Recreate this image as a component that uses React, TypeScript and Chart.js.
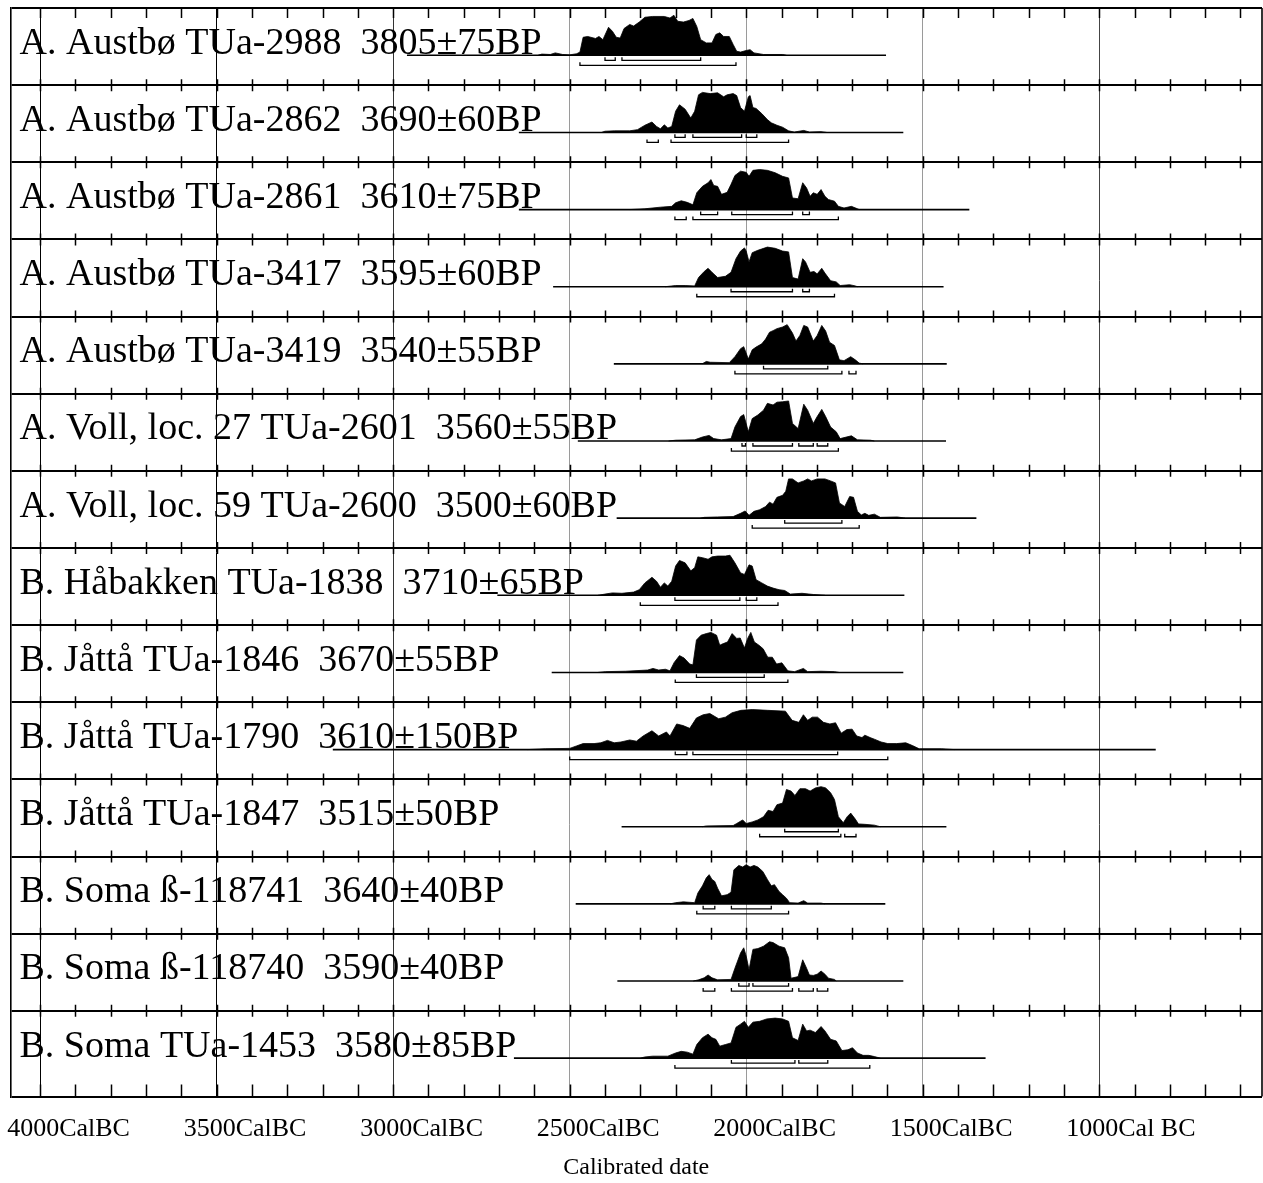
import { useEffect, useRef } from 'react';
import { Chart, registerables } from 'chart.js';

Chart.register(...registerables);

const FAMILY = '"Liberation Serif", "Times New Roman", Times, serif';

// ---- axis ----
const X_MIN_BC = 4084;
const X_MAX_BC = 539;
const X_TICKS_BC = [4000, 3500, 3000, 2500, 2000, 1500, 1000];
const X_TICK_LABELS = ['4000CalBC', '3500CalBC', '3000CalBC', '2500CalBC', '2000CalBC', '1500CalBC', '1000Cal BC'];
const MINOR_TICKS_BC = [4000, 3900, 3800, 3700, 3600, 3500, 3400, 3300, 3200, 3100, 3000, 2900, 2800, 2700, 2600, 2500, 2400, 2300, 2200, 2100, 2000, 1900, 1800, 1700, 1600, 1500, 1400, 1300, 1200, 1100, 1000, 900, 800, 700, 600];
const X_TITLE = 'Calibrated date';

// ---- samples ----
const LABELS = [
  'A. Austbø TUa-2988  3805±75BP',
  'A. Austbø TUa-2862  3690±60BP',
  'A. Austbø TUa-2861  3610±75BP',
  'A. Austbø TUa-3417  3595±60BP',
  'A. Austbø TUa-3419  3540±55BP',
  'A. Voll, loc. 27 TUa-2601  3560±55BP',
  'A. Voll, loc. 59 TUa-2600  3500±60BP',
  'B. Håbakken TUa-1838  3710±65BP',
  'B. Jåttå TUa-1846  3670±55BP',
  'B. Jåttå TUa-1790  3610±150BP',
  'B. Jåttå TUa-1847  3515±50BP',
  'B. Soma ß-118741  3640±40BP',
  'B. Soma ß-118740  3590±40BP',
  'B. Soma TUa-1453  3580±85BP',
];

const LINE_START = [2961, 2644, 2644, 2547, 2375, 2477, 2367, 2705, 2551, 3171, 2353, 2483, 2365, 2658];
const LINE_END = [1604, 1555, 1368, 1441, 1432, 1434, 1348, 1552, 1555, 840, 1433, 1606, 1555, 1322];

// [year BC, relative probability 0-100]
const DIST_TUA2988 = [[2590,0],[2579,3],[2555,2],[2541,6],[2520,2],[2500,1],[2480,4],[2471,8],[2462,45],[2449,47],[2427,42],[2417,47],[2406,39],[2390,70],[2379,60],[2368,45],[2357,43],[2346,67],[2330,77],[2319,73],[2303,83],[2287,95],[2265,97],[2232,97],[2216,93],[2205,100],[2194,85],[2178,83],[2162,87],[2151,92],[2140,72],[2129,39],[2113,31],[2097,31],[2086,52],[2075,56],[2064,47],[2048,47],[2037,27],[2027,10],[2016,8],[2000,12],[1989,14],[1978,6],[1951,2],[1897,2],[1886,0]];
const DIST_TUA2862 = [[2410,0],[2400,3],[2373,4],[2330,4],[2308,7],[2287,18],[2267,26],[2254,15],[2243,9],[2232,19],[2222,11],[2211,15],[2200,53],[2189,69],[2173,58],[2157,36],[2146,53],[2135,94],[2124,100],[2102,97],[2081,99],[2064,89],[2054,94],[2037,97],[2027,92],[2016,62],[2005,53],[1994,89],[1989,92],[1981,62],[1972,60],[1956,47],[1940,32],[1929,24],[1913,18],[1897,13],[1880,4],[1864,1],[1837,5],[1821,1],[1788,2],[1772,0]];
const DIST_TUA2861 = [[2330,0],[2287,2],[2243,6],[2211,8],[2200,17],[2184,22],[2167,18],[2151,12],[2140,42],[2124,58],[2108,67],[2100,75],[2092,60],[2081,58],[2070,38],[2054,43],[2043,63],[2032,85],[2016,96],[2000,93],[1992,83],[1981,98],[1962,100],[1940,98],[1918,92],[1897,83],[1880,79],[1869,29],[1853,27],[1840,67],[1829,54],[1819,33],[1810,42],[1799,38],[1788,50],[1777,33],[1767,25],[1750,21],[1739,8],[1723,4],[1702,8],[1685,2],[1680,0]];
const DIST_TUA3417 = [[2230,0],[2200,3],[2173,3],[2146,2],[2135,23],[2119,38],[2108,46],[2097,36],[2081,23],[2059,26],[2043,36],[2029,70],[2016,89],[2005,97],[2000,89],[1992,62],[1983,85],[1967,91],[1940,99],[1918,96],[1897,89],[1880,87],[1869,23],[1853,19],[1840,70],[1832,62],[1819,36],[1808,38],[1799,32],[1786,46],[1777,34],[1761,15],[1745,12],[1734,3],[1707,5],[1691,2],[1685,0]];
const DIST_TUA3419 = [[2125,0],[2113,6],[2102,4],[2048,3],[2032,18],[2016,38],[2007,43],[1994,12],[1983,35],[1972,42],[1956,50],[1945,62],[1934,79],[1924,83],[1913,88],[1897,92],[1884,98],[1869,77],[1859,57],[1848,71],[1837,96],[1826,92],[1810,57],[1799,71],[1786,96],[1775,82],[1764,54],[1750,46],[1736,10],[1723,8],[1704,18],[1691,10],[1680,2],[1669,0]];
const DIST_TUA2601 = [[2220,0],[2200,2],[2146,3],[2124,10],[2105,14],[2092,6],[2070,3],[2043,6],[2032,35],[2016,61],[2007,66],[1994,23],[1983,56],[1967,65],[1951,77],[1940,94],[1924,90],[1913,97],[1897,98],[1880,100],[1869,44],[1853,31],[1837,92],[1826,77],[1810,44],[1799,61],[1786,79],[1775,61],[1761,35],[1745,23],[1734,6],[1702,13],[1685,3],[1648,2],[1637,0]];
const DIST_TUA2600 = [[2130,0],[2119,2],[2081,3],[2037,4],[2016,12],[2003,18],[1992,7],[1978,17],[1962,21],[1945,29],[1934,40],[1924,35],[1913,52],[1897,57],[1888,67],[1880,98],[1869,98],[1853,88],[1837,93],[1826,98],[1815,93],[1799,98],[1777,98],[1761,93],[1747,88],[1736,38],[1721,29],[1707,54],[1696,52],[1685,17],[1674,8],[1664,12],[1653,7],[1637,10],[1620,2],[1572,3],[1550,0]];
const DIST_TUA1838 = [[2420,0],[2400,3],[2379,6],[2352,5],[2319,8],[2303,14],[2287,31],[2267,45],[2254,35],[2243,20],[2232,31],[2222,23],[2211,35],[2200,73],[2189,87],[2173,81],[2157,61],[2146,69],[2137,96],[2124,94],[2108,90],[2097,96],[2081,98],[2059,98],[2046,100],[2032,81],[2016,56],[2005,52],[1992,76],[1983,73],[1972,39],[1956,31],[1940,23],[1924,18],[1907,14],[1891,12],[1875,3],[1842,5],[1810,2],[1777,0]];
const DIST_TUA1846 = [[2420,0],[2399,2],[2342,3],[2279,6],[2264,10],[2248,6],[2229,8],[2216,4],[2204,25],[2189,42],[2176,36],[2160,21],[2151,19],[2141,81],[2128,93],[2113,97],[2100,100],[2084,93],[2075,68],[2065,72],[2053,76],[2040,97],[2027,85],[2017,86],[2005,61],[1996,85],[1987,100],[1977,76],[1964,68],[1952,59],[1939,38],[1926,38],[1914,21],[1899,24],[1882,4],[1863,2],[1838,10],[1826,2],[1788,3],[1750,2],[1737,0]];
const DIST_TUA1790 = [[2620,0],[2569,2],[2500,3],[2481,9],[2462,15],[2431,15],[2412,17],[2393,23],[2374,17],[2355,19],[2330,24],[2311,21],[2292,34],[2267,47],[2248,34],[2226,44],[2216,34],[2197,64],[2179,60],[2160,53],[2141,79],[2122,87],[2103,90],[2078,77],[2059,81],[2040,92],[2015,98],[1983,100],[1939,98],[1889,96],[1870,73],[1851,68],[1838,87],[1826,73],[1813,81],[1798,81],[1781,68],[1763,64],[1747,67],[1731,41],[1715,50],[1700,51],[1687,34],[1672,30],[1664,36],[1649,30],[1637,26],[1618,19],[1599,15],[1574,15],[1548,17],[1529,10],[1510,2],[1447,2],[1410,0]];
const DIST_TUA1847 = [[2125,0],[2113,2],[2037,3],[2027,8],[2010,17],[2000,8],[1983,12],[1967,17],[1951,25],[1938,41],[1924,38],[1913,55],[1897,59],[1886,93],[1873,89],[1862,78],[1848,95],[1832,95],[1819,89],[1804,97],[1788,100],[1775,97],[1761,85],[1750,68],[1739,25],[1725,10],[1714,25],[1704,34],[1691,19],[1682,7],[1664,6],[1637,4],[1620,0]];
const DIST_B118741 = [[2215,0],[2200,3],[2178,5],[2146,3],[2137,27],[2124,45],[2113,65],[2105,73],[2097,61],[2089,56],[2081,39],[2070,20],[2054,23],[2043,29],[2035,85],[2021,96],[2010,92],[2000,98],[1989,92],[1978,96],[1967,92],[1953,81],[1940,61],[1929,45],[1920,48],[1907,31],[1897,23],[1886,14],[1877,3],[1853,2],[1837,8],[1826,2],[1788,2],[1777,0]];
const DIST_B118740 = [[2150,0],[2135,3],[2119,8],[2108,15],[2097,8],[2081,3],[2043,4],[2032,32],[2016,70],[2007,83],[2000,62],[1992,28],[1981,79],[1967,81],[1951,87],[1934,98],[1924,96],[1907,87],[1891,83],[1880,58],[1873,7],[1853,11],[1840,53],[1829,32],[1821,15],[1810,14],[1799,17],[1788,25],[1777,17],[1767,7],[1750,4],[1745,0]];
const DIST_TUA1453 = [[2300,0],[2287,3],[2265,5],[2222,5],[2200,13],[2184,17],[2167,15],[2151,10],[2140,34],[2124,51],[2108,60],[2097,51],[2086,47],[2075,30],[2059,34],[2043,38],[2029,77],[2016,85],[2005,92],[1994,77],[1981,90],[1962,92],[1942,98],[1918,100],[1897,98],[1880,92],[1869,51],[1853,44],[1840,85],[1829,68],[1819,70],[1804,64],[1788,79],[1777,68],[1761,47],[1745,43],[1729,19],[1712,21],[1699,26],[1685,13],[1669,7],[1653,7],[1637,4],[1620,0]];

const DISTS = [DIST_TUA2988, DIST_TUA2862, DIST_TUA2861, DIST_TUA3417, DIST_TUA3419, DIST_TUA2601, DIST_TUA2600, DIST_TUA1838, DIST_TUA1846, DIST_TUA1790, DIST_TUA1847, DIST_B118741, DIST_B118740, DIST_TUA1453];

// 68.2% and 95.4% ranges [from BC, to BC]
const RANGES_68 = [
  [[2400, 2371], [2352, 2129]],
  [[2202, 2173], [2151, 2013], [2000, 1970]],
  [[2129, 2081], [2041, 1869], [1840, 1821]],
  [[2043, 1869], [1840, 1821]],
  [[1951, 1769]],
  [[2012, 2002], [1981, 1869], [1851, 1810], [1799, 1769]],
  [[1891, 1729]],
  [[2202, 2018], [2000, 1970]],
  [[2141, 1949]],
  [[2201, 2168], [2151, 1741]],
  [[1891, 1739]],
  [[2122, 2089], [2042, 1929]],
  [[2021, 1992], [1981, 1880]],
  [[2042, 1862], [1851, 1769]],
];
const RANGES_95 = [
  [[2471, 2029]],
  [[2281, 2249], [2213, 1880]],
  [[2202, 2170], [2151, 1739]],
  [[2140, 1750]],
  [[2032, 1729], [1709, 1689]],
  [[2042, 1739]],
  [[1983, 1680]],
  [[2300, 1910]],
  [[2201, 1882]],
  [[2500, 1599]],
  [[1962, 1732], [1721, 1689]],
  [[2140, 1880]],
  [[2122, 2089], [2042, 1869], [1851, 1810], [1799, 1769]],
  [[2202, 1650]],
];

// ---- layout constants (in row units) ----
const ROWS = LABELS.length;
const Y_MAX = 14.11;
const BASE = 0.613;
const PEAK = 0.519;
const B68 = 0.678;
const B95 = 0.743;
const BRACKET_TICK = 0.04;
const TEXT_BASE = 0.593;

function bracketPoints(row: number, ranges: number[][], level: number) {
  const pts: { x: number; y: number | null }[] = [];
  const yl = row + level;
  const yt = yl - BRACKET_TICK;
  ranges.forEach(([a, b]) => {
    pts.push({ x: -a, y: yt }, { x: -a, y: yl }, { x: -b, y: yl }, { x: -b, y: yt }, { x: -b, y: null });
  });
  return pts;
}

function buildDatasets() {
  const ds: any[] = [];
  for (let i = 0; i < ROWS; i++) {
    ds.push({
      type: 'line',
      data: [{ x: -LINE_START[i], y: i + BASE }, { x: -LINE_END[i], y: i + BASE }],
      borderColor: '#000',
      borderWidth: 1.6,
      pointRadius: 0,
      fill: false,
    });
    ds.push({
      type: 'line',
      data: DISTS[i].map(([yr, h]) => ({ x: -yr, y: i + BASE - (PEAK * h) / 100 })),
      borderColor: '#000',
      backgroundColor: '#000',
      borderWidth: 0.8,
      pointRadius: 0,
      fill: { value: i + BASE },
    });
    ds.push({
      type: 'line',
      data: [...bracketPoints(i, RANGES_68[i], B68), ...bracketPoints(i, RANGES_95[i], B95)],
      borderColor: '#000',
      borderWidth: 1.3,
      pointRadius: 0,
      fill: false,
      spanGaps: false,
    });
  }
  return ds;
}

function gridColor(v: number | undefined) {
  if (v === -4000 || v === -3500) return '#000';
  if (v === -3000) return '#333';
  if (v === -1000) return '#444';
  return '#9a9a9a';
}

const overlay = {
  id: 'overlay',
  afterDraw(chart: any) {
    const { ctx, chartArea, scales } = chart;
    const x = scales.x;
    const y = scales.y;
    ctx.save();
    ctx.strokeStyle = '#000';
    ctx.lineWidth = 1.6;
    ctx.beginPath();
    ctx.moveTo(chartArea.right, chartArea.top);
    ctx.lineTo(chartArea.right, chartArea.bottom);
    ctx.stroke();

    ctx.lineWidth = 1.5;
    ctx.beginPath();
    MINOR_TICKS_BC.forEach((bc) => {
      const px = Math.round(x.getPixelForValue(-bc)) + 0.5;
      for (let k = 0; k <= ROWS; k++) {
        const py = y.getPixelForValue(k === ROWS ? Y_MAX : k);
        let a = py - 6;
        let b = py + 6;
        if (k === 0) { a = py; b = py + 10; }
        if (k === ROWS) { a = py - 12; b = py; }
        ctx.moveTo(px, a);
        ctx.lineTo(px, b);
      }
    });
    ctx.stroke();

    ctx.fillStyle = '#000';
    ctx.font = `38px ${FAMILY}`;
    ctx.textAlign = 'left';
    ctx.textBaseline = 'alphabetic';
    LABELS.forEach((t, i) => {
      ctx.fillText(t, chartArea.left + 9, y.getPixelForValue(i + TEXT_BASE));
    });
    ctx.restore();
  },
};

export default function App() {
  const ref = useRef<HTMLCanvasElement>(null);
  useEffect(() => {
    if (!ref.current) return;
    const chart = new Chart(ref.current, {
      type: 'line',
      data: { datasets: buildDatasets() },
      options: {
        animation: false,
        responsive: true,
        maintainAspectRatio: false,
        devicePixelRatio: 1,
        layout: { padding: { left: 10.5, right: 1, top: 8, bottom: 8.5 } },
        plugins: { legend: { display: false }, tooltip: { enabled: false }, title: { display: false } },
        scales: {
          x: {
            type: 'linear',
            min: -X_MIN_BC,
            max: -X_MAX_BC,
            afterBuildTicks: (s: any) => {
              s.ticks = X_TICKS_BC.map((v) => ({ value: -v }));
            },
            grid: {
              color: (c: any) => gridColor(c.tick ? c.tick.value : undefined),
              lineWidth: 1,
              drawTicks: false,
            },
            border: { display: false },
            ticks: {
              autoSkip: false,
              maxRotation: 0,
              minRotation: 0,
              align: 'start',
              labelOffset: -33,
              padding: 16.9,
              color: '#000',
              font: { family: FAMILY, size: 26, lineHeight: 1.2 },
              callback: (v: any) => {
                const idx = X_TICKS_BC.indexOf(-Number(v));
                return idx >= 0 ? X_TICK_LABELS[idx] : '';
              },
            },
            title: {
              display: true,
              text: X_TITLE,
              color: '#000',
              font: { family: FAMILY, size: 24, lineHeight: 13 / 24 },
              padding: { top: 0, bottom: 0 },
            },
          },
          y: {
            type: 'linear',
            reverse: true,
            min: 0,
            max: Y_MAX,
            afterBuildTicks: (s: any) => {
              const t = [];
              for (let k = 0; k < ROWS; k++) t.push({ value: k });
              t.push({ value: Y_MAX });
              s.ticks = t;
            },
            ticks: { display: false },
            grid: { color: '#000', lineWidth: 2, drawTicks: false },
            border: { display: true, color: '#000', width: 1.6 },
          },
        },
      } as any,
      plugins: [overlay],
    } as any);
    return () => chart.destroy();
  }, []);
  return (
    <div style={{ position: 'fixed', left: 0, top: 0, width: 1263, height: 1183, background: '#fff' }}>
      <canvas ref={ref} />
    </div>
  );
}
